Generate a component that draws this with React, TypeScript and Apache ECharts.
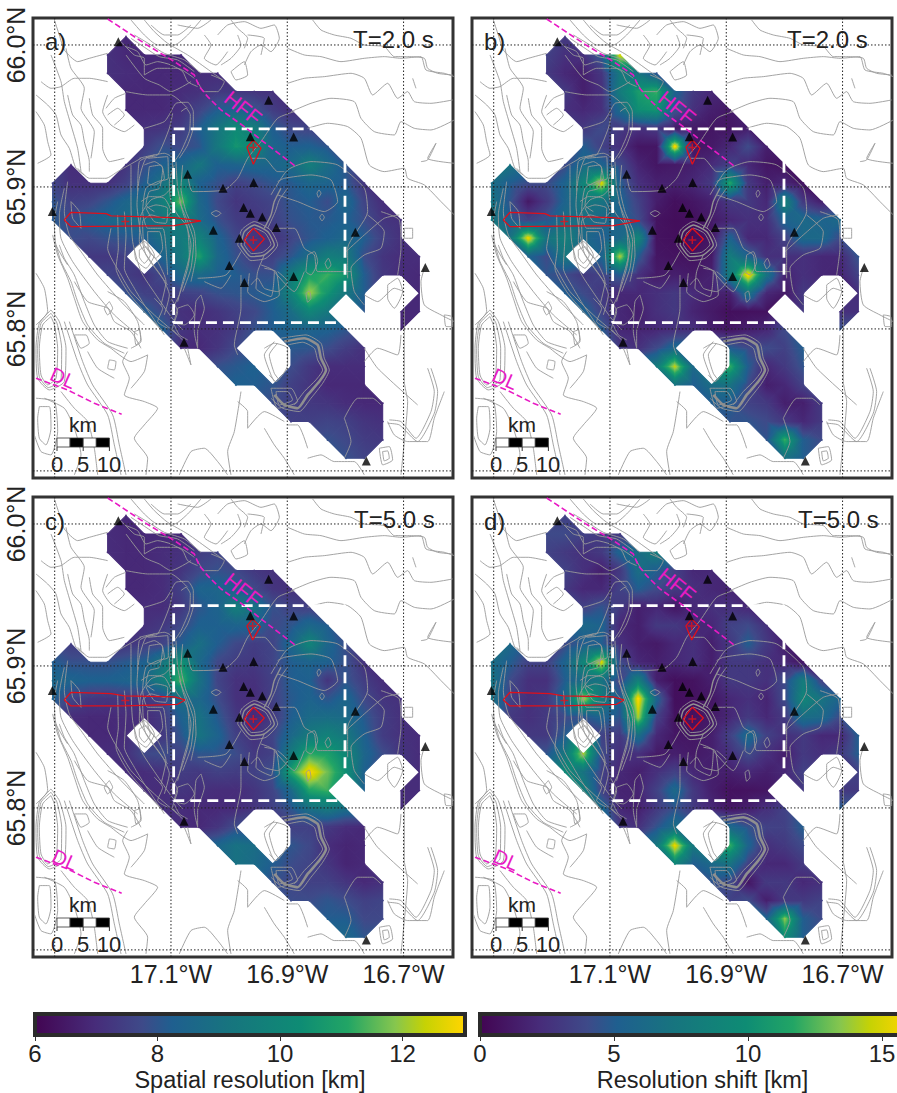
import React, { useEffect, useRef } from "react";
import * as echarts from "echarts";

// ---------- map frame ----------
const lonMin = -17.3373, lonMax = -16.615, latMax = 66.019, latMin = 65.695;
const gridLons = [-17.3, -17.1, -16.9, -16.7];
const gridLats = [66.0, 65.9, 65.8, 65.7];
const lonLabels = [-17.1, -16.9, -16.7];
const latLabels = [66.0, 65.9, 65.8];

// map sheet units -> degrees (one sheet unit = 1/1744.5 deg lon, 1/4260 deg lat)
const sheet = (p: number[]) => [-17.1 + (p[0] - 420) / 1744.5, 66 - (p[1] - 90) / 4260];

// ---------- tomography node table: column ranges present per row ----------
const nodeLon0 = -17.3035, nodeDLon = 0.03153, nodeLat0 = 66.00587, nodeDLat = 0.01291;
const maskRows = [
  [[4,4]],[[3,7]],[[3,9]],[[4,12]],[[4,13]],[[5,14]],[[5,15]],[[1,1],[4,16]],[[0,17]],[[0,18]],[[0,19]],[[1,19]],
  [[2,4],[6,20]],[[3,20]],[[4,17],[20,20]],[[5,15],[17,17],[19,20]],[[6,16],[19,19]],[[7,10],[13,17]],[[9,11],[13,17]],
  [[10,17]],[[12,18]],[[13,18]],[[15,18]],[[16,17]],
];

const resolution2s = [
  [6.9],
  [7.1,6.9,6.9,6.9,6.9],
  [7.1,7.0,6.9,6.9,6.9,7.0,7.0],
  [6.9,6.9,6.9,7.0,7.1,7.3,7.3,7.2,7.1],
  [6.9,6.9,6.9,7.1,7.6,8.2,8.4,8.0,7.4,7.1],
  [7.1,7.2,7.4,8.2,9.2,10.2,9.6,8.2,7.7,7.6],
  [7.4,7.9,7.7,8.0,9.3,10.6,10.1,8.5,8.2,8.3,8.0],
  [7.0,7.2,7.8,8.3,8.5,9.2,8.3,8.4,8.5,8.5,8.7,9.6,8.8,8.0],
  [7.6,7.1,7.1,7.1,7.5,8.2,9.0,10.0,8.3,7.9,7.5,7.7,8.0,8.1,8.5,8.4,8.1,7.2],
  [8.0,7.5,7.6,8.0,8.5,8.8,9.6,11.7,8.6,7.7,7.2,7.4,7.6,8.0,8.2,7.8,8.6,7.6,7.0],
  [8.1,7.8,8.2,8.5,8.7,8.8,9.2,9.6,8.7,7.9,7.4,7.2,7.5,7.9,8.1,8.1,8.3,7.8,7.2,7.1],
  [7.8,7.7,7.9,8.0,8.2,8.9,9.4,9.8,8.4,7.7,7.2,7.1,7.6,8.0,8.3,8.6,8.2,7.5,7.1],
  [7.3,7.3,7.5,8.4,9.3,10.9,8.6,7.9,7.4,7.5,8.0,8.8,9.6,9.4,7.8,7.2,7.0,7.0],
  [7.6,7.4,7.2,7.7,8.6,8.7,8.3,8.2,7.9,7.9,9.5,10.9,11.3,10.6,8.2,7.3,7.0,6.9],
  [7.9,7.5,7.4,7.5,7.6,7.9,8.0,8.1,8.3,9.8,12.1,10.6,9.2,8.2,6.9],
  [8.2,7.7,7.1,7.0,7.2,7.5,7.7,8.2,8.8,10.0,9.3,8.0,6.9,6.9],
  [8.3,7.2,7.0,7.1,7.4,7.9,8.2,8.4,8.4,8.3,8.0,6.9],
  [7.0,6.9,7.2,7.7,8.1,8.0,7.8,7.4,7.1],
  [7.9,8.1,8.3,7.8,7.3,7.0,7.0,7.0],
  [8.3,8.2,8.0,7.5,7.2,6.9,6.9,6.9],
  [7.8,7.5,7.3,7.2,7.0,6.9,6.9],
  [7.5,7.5,7.6,7.5,7.2,7.1],
  [7.9,7.7,7.4,7.3],
  [7.9,7.6],
];

const shift2s = [
  [3],
  [3.5,2.5,2.5,5,15],
  [3,2,1.5,2.8,7.5,7,4.5],
  [3,1.5,2.5,8,11,12,5.5,3,2],
  [2.5,2,2.5,6,10,10.5,4.5,2.5,1.5,1.2],
  [3,4,3,2.5,3,1.2,1.2,1,1,1.5],
  [5,3.5,2.5,1,1,16,1,1.2,2,4,1.5],
  [7,4,6,5.5,4,1.8,1,1.2,1.5,2.2,3.5,2,1,0.8],
  [6.5,5,4,4,5.5,9,15,5,2.5,1.6,1.6,2,3,11.5,3,1.5,2,0.8],
  [7,4.5,1.2,3,5.5,7.5,7,5.5,3.5,1.4,0.6,1,1.6,3,3,2,8.5,3,1.5],
  [7.5,5,3.5,4.5,6.5,6.5,6,5.5,4,0.8,0.5,0.6,1.2,2,2.5,2.5,5.5,6,5.5,6],
  [7,15.5,7,8.5,6,5,6,9,0.8,0.6,0.6,1,5.5,2,2,3.5,6,6,4],
  [5.5,4,7.5,5.5,14,5,1,0.8,0.8,1.2,8,5.5,2.5,2.5,2.5,2,2,4.5],
  [4.5,4,3,3.5,5,2.5,1.2,1.5,1.2,1.6,8,16,7,1.8,2.5,2,1.8,3.5],
  [5,4,3,2,2,2.5,3,2.2,1.6,1.6,7,2,1.2,3,2.5],
  [5.5,3.5,2,1.5,2.5,3,1.8,1.2,0.6,0.7,0.8,3,2.5,2.5],
  [5,2,1.8,2,2.5,2.5,1.5,1,1.5,2,4,4.5],
  [3,2.5,4,6,5,4,4,3.5,5],
  [8,14.5,6,12,5,2,3,4.5],
  [7,5,6.5,7,4,1.5,2,3.5],
  [5,5,3.5,3,1.5,1.5,3],
  [4.5,4.5,4,3,2,3],
  [4.5,12,5,4],
  [7,5],
];

const resolution5s = [
  [6.9],
  [7,6.9,6.9,6.9,6.9],
  [7,6.9,6.9,7,7.1,7.4,7.6],
  [6.9,6.9,7,7.2,7.7,7.9,7.7,7.3,7.1],
  [6.9,6.9,7,7.5,8.4,8.5,8.2,7.7,7.2,7.1],
  [7,7,7.3,8,8.4,9.6,9,7.9,7.6,7.5],
  [7.1,7.3,7.7,8.3,8.3,8.4,8.4,7.7,8,8.6,8.2],
  [7.4,7.2,7.4,7.6,8.2,8.9,8.2,7.7,7.4,7.6,8.5,9.9,8.5,7.8],
  [8.2,7.9,7.9,7.9,8.1,8.3,9.2,10.6,8.6,7.7,7.4,7.3,7.6,8.2,8.4,8.3,7.9,7.1],
  [8.6,8.4,8.3,8.3,8.4,8.6,9.6,11.4,9,7.6,7.1,7.1,7.5,8.2,8.3,7.2,8,7.4,7],
  [8.3,7.6,7.3,7.2,7.3,7.3,7.6,8.8,8.6,7.8,7.1,7,7.5,8.1,8.4,8,8.5,7.7,7.2,7.1],
  [7,6.9,6.9,7,7,7.3,8.3,9,8.1,7.3,6.9,7.3,8.2,8.7,8.8,8.7,8.1,7.4,7.1],
  [6.9,6.9,7,7.3,8,9.1,8.4,7.5,7.1,7.6,8.6,9.4,9.8,9.3,8.3,7.4,7.1,7],
  [7,7.1,7.7,7.8,7.6,8,8,7.8,7.3,7.5,9.4,11.2,10.9,10.1,8.5,7.8,7.2,7],
  [7,7,7.1,7.4,7.3,7.5,7.4,7.5,7.9,11,13,11.7,10.4,8.3,7],
  [7,7,7.2,7.1,7,7,7.2,7.6,8.6,11,11.3,8.3,7,7],
  [7.1,7,6.9,6.9,7,7.2,7.5,8,8.9,9.3,8.8,7],
  [7,6.9,7.2,7.8,7.5,7.5,7.3,7,6.9],
  [8.5,9,8.8,8,7.7,7,6.8,6.9],
  [9,8.7,8.2,7.8,7.6,7.2,6.8,6.9],
  [7.9,7.7,7.5,7.5,7.2,6.9,7.1],
  [7.8,7.8,8,7.8,7.5,7.6],
  [8.2,8.2,7.7,7.7],
  [8.6,8],
];

const shift5s = [
  [3.5],
  [4,4,3.5,3,3],
  [3.5,3,2.5,3,5.5,6.5,8],
  [3.5,2.5,1.5,3,6.5,5,3.5,2,2],
  [3,2,2,3.5,5,4,3,2.5,2,1.8],
  [3.5,4.5,3,1.5,2,1,2,2.5,2.5,2],
  [6,5.5,2,1.5,3,3,2,2,3.5,4,2.5],
  [6,4,5,5,2.5,1.5,1.2,2,2.5,1.5,3,5,3,1.5],
  [6.5,5,3.5,3.5,5.5,9,15,4,2,1.5,2,2.5,1.5,3,3,2.5,2,1],
  [7,4,2.5,2.5,5,6.5,7,3.5,8.5,1.5,0.6,0.8,1.5,3,3,2.5,4,8,3.5],
  [7,3.5,2.5,3,6,14,8,5,16,5.5,0.6,0.7,1,2,2.5,1.8,4,9,7,5.5],
  [3,2.5,3,4,4.5,5.5,4.5,14,3.5,0.8,0.7,1.2,2,3,2,3,6.5,6,4],
  [3,3,5,3.5,3,6.5,2,1,1,1.5,3.5,6,3.5,2.5,3,2,2,5],
  [4.5,7.5,14,4,2.5,2.5,1.2,1.5,1.2,1.5,2.5,4,2.5,1.5,3,2.5,3,5],
  [9.5,7,3.5,2,1.5,2.5,3.5,2,1.5,1.5,2,1.5,2,3.5,3.5],
  [8.5,3.5,1.8,1.8,3.5,6,3,1.5,0.7,0.8,1,3,3,3],
  [6,2,1.5,3,4.5,3,2,1,1.5,2.5,3.5,5],
  [3,2.5,4.5,6.5,6,4.5,3.5,3.5,5],
  [7.5,15.5,7.5,12,5.5,2.5,3,4],
  [9,5,6,7,3.5,2,2,3],
  [4.5,4,1,3,3,2,2.5],
  [3.5,4,1.5,3,3,3.5],
  [5.5,13.5,5,4],
  [10,5],
];

// ---------- colour scale ----------
const paletteT = [0, 0.14, 0.25, 0.32, 0.45, 0.62, 0.73, 0.84, 0.91, 1];
const paletteC = ["#420552", "#472c7a", "#3e4a89", "#1f5f8f", "#17747f", "#0e8c74", "#22a565", "#86c64e", "#c6d204", "#ffd500"];

const hexRgb = (h: string) => [1, 3, 5].map((k) => parseInt(h.slice(k, k + 2), 16));
function colorAt(t: number) {
  const u = Math.max(0, Math.min(1, t));
  let k = 0;
  while (k < paletteT.length - 2 && u > paletteT[k + 1]) k++;
  const f = (u - paletteT[k]) / (paletteT[k + 1] - paletteT[k]);
  const a = hexRgb(paletteC[k]), b = hexRgb(paletteC[k + 1]);
  return `rgb(${a.map((c, i) => Math.round(c + (b[i] - c) * f)).join(",")})`;
}

// ---------- topographic contours (map sheet units) ----------
const thinContours: number[][][] = [
  [[845,15],[870,45],[910,60],[960,70],[1000,90],[1060,95],[1090,125],[1130,125],[1180,130],[1190,160],[1220,175],[1265,180]],
  [[770,100],[820,120],[870,125],[930,140],[1000,130],[1060,125],[1110,130],[1170,125],[1185,165],[1240,175],[1270,185]],
  [[770,205],[820,190],[880,185],[960,175],[1000,190],[1025,240],[1070,205],[1100,250],[1130,230],[1150,260],[1200,265],[1265,255]],
  [[780,290],[840,265],[900,250],[970,260],[990,310],[1030,350],[1090,360],[1110,320],[1150,340],[1200,345],[1270,315]],
  [[830,340],[890,325],[950,335],[990,370],[1015,450],[1060,470],[1120,460],[1130,490],[1180,510],[1230,560],[1270,600]],
  [[1170,440],[1190,435],[1215,385],[1190,430],[1270,445]],
  [[1145,190],[1155,220]],
  [[470,480],[485,530],[580,525],[620,490],[650,430],[690,380],[740,310],[790,290]],
  [[720,540],[770,465],[840,440],[920,450],[1000,520],[1010,590],[950,700],[950,790]],
  [[740,500],[760,490],[840,480],[900,495],[920,560],[880,590],[800,560],[740,540]],
  [[500,790],[585,780],[630,710]],
  [[730,640],[790,640],[820,700],[850,720],[860,770],[960,770]],
  [[630,780],[630,880],[610,990],[620,1020]],
  [[730,770],[790,830],[820,770]],
  [[700,720],[680,770],[675,820],[720,845],[730,770],[690,750]],
  [[540,595],[555,587],[570,595],[555,605],[540,595]],
  [[866,607],[873,597],[880,607],[873,618],[866,607]],
  [[858,535],[864,525],[870,535],[862,547],[858,535]],
  [[882,745],[892,730],[900,750],[890,762],[882,745]],
  [[825,835],[835,828],[840,850],[830,862],[825,835]],
  [[420,290],[435,265],[470,262],[487,290],[487,335],[470,390],[445,430]],
  [[425,295],[415,340],[380,420],[345,430],[325,490],[318,570],[330,660],[345,720],[380,770],[410,810]],
  [[450,290],[465,280],[478,300],[475,350],[450,410],[430,440]],
  [[430,450],[415,500],[420,560],[440,600],[465,630],[480,690],[470,760],[445,840],[420,890]],
  [[445,560],[470,620],[488,680],[480,760],[455,830]],
  [[350,430],[410,425],[412,490],[380,500],[345,520],[335,590],[350,640],[395,640],[405,700],[410,780]],
  [[330,560],[355,545],[400,550],[420,590],[400,610],[360,600],[335,620],[340,690],[380,740],[405,800],[390,870]],
  [[340,450],[370,440],[395,460],[385,520],[355,530],[345,570],[370,590]],
  [[320,530],[325,440],[370,420]],
  [[280,590],[285,660],[280,760],[310,820],[340,870],[400,960]],
  [[240,640],[230,700],[270,780],[300,830],[370,900],[440,960]],
  [[120,560],[125,610],[150,640],[145,590],[120,560]],
  [[100,520],[85,600],[90,670],[125,740],[190,830],[250,900],[320,960]],
  [[110,500],[100,590],[115,660],[150,710],[200,780],[270,860],[340,930]],
  [[80,560],[70,620],[75,690],[110,750]],
  [[440,880],[470,870],[490,900],[460,930],[430,920],[440,880]],
  [[510,840],[520,880],[500,950],[500,1000],[490,950],[495,860],[510,840]],
  [[470,975],[445,960],[430,930]],
  [[460,1000],[480,1050],[470,1000]],
  [[270,80],[310,120],[340,130],[340,180],[380,160],[440,160],[490,190]],
  [[285,120],[340,190],[385,210],[420,230],[480,200]],
  [[285,230],[350,240],[420,240],[470,280]],
  [[340,340],[400,320],[420,290]],
  [[500,200],[520,230],[560,230],[580,200],[540,180]],
  [[300,15],[340,60],[380,90],[430,90],[470,60],[510,15]],
  [[440,30],[500,40],[540,15]],
  [[560,60],[590,30],[640,20],[690,40],[730,30],[745,70],[720,110],[690,90],[660,110],[640,150]],
  [[570,150],[600,130],[630,90],[620,60]],
  [[600,170],[640,140],[650,180],[615,195],[600,170]],
  [[230,115],[175,130],[140,140],[100,105],[85,60],[70,15]],
  [[30,200],[60,220],[90,215],[130,190],[175,190],[230,200]],
  [[15,240],[50,270],[75,300],[90,360],[115,400],[135,460],[160,480]],
  [[15,290],[40,330],[50,380],[60,420],[20,445]],
  [[110,240],[125,300],[150,330],[160,380],[175,440],[175,470]],
  [[175,250],[185,300],[215,340],[215,400],[235,440],[280,430]],
  [[225,280],[250,250],[285,235]],
  [[85,690],[100,730],[130,780],[160,860],[190,930],[230,980],[290,1000]],
  [[75,690],[90,740],[120,800],[140,860],[170,930],[220,985],[280,1015]],
  [[65,660],[80,720],[110,790],[130,850],[155,920],[200,975],[240,1000]],
  [[60,905],[35,930],[25,1000],[30,1080],[50,1110],[75,1090],[80,1000],[70,930],[60,905]],
  [[60,885],[25,925],[15,1000],[20,1090],[55,1125],[100,1100],[105,1000],[85,920],[60,885]],
  [[60,895],[30,925],[20,1000],[25,1085],[52,1118],[90,1095],[92,1000],[78,925],[60,895]],
  [[15,775],[40,820],[50,890],[15,930]],
  [[25,1175],[55,1175],[60,1240],[45,1290],[25,1270],[20,1210],[25,1175]],
  [[15,1150],[70,1160],[80,1250],[60,1320],[30,1310],[10,1260]],
  [[100,920],[140,1040],[170,1110],[230,1200],[250,1290],[270,1380]],
  [[115,920],[155,1040],[185,1110],[245,1200],[265,1290],[285,1380]],
  [[90,1130],[130,1180],[170,1220],[190,1300],[200,1380]],
  [[235,860],[220,880],[230,900],[245,880],[235,860]],
  [[235,1035],[230,1060],[250,1065],[255,1040],[235,1035]],
  [[310,950],[325,945],[330,975],[315,990],[310,950]],
  [[290,1010],[275,1040],[295,1090],[280,1140],[340,1160],[380,1180],[340,1230],[310,1270],[350,1330],[345,1380]],
  [[445,1380],[480,1310],[520,1300],[560,1340],[590,1380]],
  [[630,1130],[610,1250],[590,1310],[600,1380]],
  [[730,980],[700,1020],[720,1080],[730,1100]],
  [[740,985],[715,1020],[730,1075],[745,1095]],
  [[720,1120],[780,1120],[800,1160],[740,1180],[720,1120]],
  [[735,1130],[770,1130],[785,1155],[745,1170],[735,1130]],
  [[940,1210],[980,1150],[1025,1150],[1050,1170]],
  [[940,1210],[960,1280],[940,1330]],
  [[1190,1060],[1210,1130],[1200,1190],[1155,1270],[1110,1220],[1075,1215]],
  [[1200,1060],[1220,1130],[1210,1195],[1160,1280],[1105,1230],[1070,1225]],
  [[1120,880],[1120,1100],[1130,1160],[1120,1280],[1110,1380]],
  [[1045,1300],[1075,1295],[1085,1335],[1055,1350],[1045,1300]],
  [[1055,1310],[1070,1308],[1075,1330],[1060,1338],[1055,1310]],
  [[830,1330],[870,1320],[910,1340],[970,1340],[1000,1380]],
  [[620,1160],[650,1190],[650,1240],[700,1190],[760,1220]],
  [[1180,760],[1170,800],[1180,870],[1230,900],[1270,920]],
  [[1240,900],[1262,905],[1265,935],[1245,935],[1240,900]],
  [[1160,1170],[1040,1060],[1000,1000]],
  [[1000,840],[1040,860],[1090,820],[1120,830]],
  [[325,430],[345,425],[400,415],[425,430],[425,510],[400,540],[360,555],[330,600],[325,680],[360,740],[395,790],[415,840],[400,900]],
  [[355,455],[390,450],[400,490],[370,510],[350,505],[355,455]],
  [[345,580],[375,570],[410,580],[405,625],[370,620],[345,580]],
  [[350,650],[385,650],[395,700],[375,730],[352,700],[350,650]],
  [[435,440],[440,520],[455,590],[470,640],[475,720],[455,800],[440,860]],
  [[455,450],[450,520],[465,590],[490,650],[495,720],[480,800]],
  [[300,450],[300,560],[305,680],[330,770],[375,840],[420,905],[455,945]],
  [[260,600],[262,700],[255,760],[290,830],[340,890],[395,950]],
  [[420,850],[440,890],[425,940],[455,975]],
  [[370,850],[395,880],[380,920],[410,940]],
  [[285,95],[320,110],[345,150],[380,140],[420,150],[455,170],[470,200],[500,215]],
  [[300,70],[345,100],[385,125],[440,135],[490,170]],
  [[310,60],[360,90],[400,115],[460,135],[510,175]],
  [[340,15],[370,50],[410,85],[470,120],[540,170],[575,195]],
  [[360,30],[400,60],[440,60],[480,30]],
  [[520,60],[540,90],[520,130],[555,150],[590,110]],
  [[650,60],[700,70],[690,120]],
  [[600,15],[620,40],[650,70],[640,100]],
  [[105,100],[120,160],[160,220],[150,280],[190,350],[180,430]],
  [[60,120],[90,200],[100,260],[120,330],[140,400],[150,470]],
  [[230,240],[215,290],[240,330],[280,350],[310,330]],
  [[230,300],[260,280],[280,300],[250,330]],
  [[140,460],[175,490],[225,490],[260,470],[330,430]],
  [[130,800],[170,860],[230,880],[250,920],[300,950],[330,1000]],
  [[230,830],[280,860],[320,920],[330,980],[300,1000]],
  [[240,1000],[300,1040],[350,1020],[340,1070],[300,1120]],
  [[170,1010],[200,1060],[250,1090]],
  [[130,960],[150,1000],[175,985],[165,960],[130,960]],
  [[40,1150],[100,1180],[130,1240],[150,1320],[130,1380]],
  [[750,970],[825,960],[870,985],[880,1030],[895,1065],[875,1105],[840,1150],[805,1190],[755,1180],[720,1150]],
  [[770,990],[815,982],[850,1000],[860,1035],[875,1065],[855,1095],[820,1130],[790,1170]],
  [[310,700],[340,680],[370,720],[345,760],[315,735],[310,700]],
  [[325,705],[345,695],[358,720],[340,745],[325,725],[325,705]],
  [[700,1000],[730,985],[770,1000],[770,1050],[735,1100],[715,1080]],
  [[1070,1220],[1090,1260],[1130,1280],[1190,1280],[1210,1210],[1240,1130]],
  [[1000,1040],[1040,1000],[1100,1020],[1110,960]],
  [[1070,810],[1100,790],[1115,830],[1090,880],[1070,850],[1070,810]],
  [[1120,640],[1145,640],[1145,670],[1120,670],[1120,640]],
  [[1010,600],[1060,650],[1050,700],[1000,720],[960,760],[970,830],[1000,870]],
  [[1050,590],[1105,615],[1110,700],[1100,780]],
  [[945,710],[1000,660],[1060,610],[1105,600]],
  [[830,720],[850,710],[860,740],[840,780],[825,770],[830,720]],
  [[660,430],[700,430],[740,470],[760,470]],
  [[520,800],[570,820],[600,780]],
  [[660,810],[680,790],[700,820],[740,830],[770,800],[740,770]],
  [[655,775],[650,830],[700,860],[745,840],[735,770],[700,760]],
  [[620,690],[632,645],[670,620],[718,645],[740,690],[705,730],[660,737],[620,690]],
  [[640,690],[650,655],[670,640],[703,655],[720,688],[695,712],[662,716],[640,690]],
  [[710,640],[733,590],[745,555],[770,520]],
  [[770,1230],[800,1230],[830,1300]],
  [[700,1240],[730,1290],[760,1330],[790,1380]],
];
const thickContours: number[][][] = [
  [[760,980],[820,970],[860,990],[870,1030],[885,1065],[865,1100],[830,1140],[800,1180],[760,1170],[730,1140]],
];
const mediumContours: number[][][] = [
  [[630,690],[640,650],[670,630],[710,650],[730,690],[700,720],[660,725],[630,690]],
  [[700,640],[720,600],[730,560],[750,520]],
];

// ---------- other map features ----------
const stations = [[262,80],[713,256],[658,365],[788,366],[470,478],[576,520],[668,503],[638,578],[658,595],[694,606],[736,638],[547,646],[625,670],[595,752],[640,803],[788,785],[973,652],[1183,758],[459,982],[1006,1338],[64,590]];
const hffFault = [[230,12],[340,85],[430,140],[490,180],[505,215],[530,245],[570,285],[640,335],[690,375],[795,455]];
const dlFault = [[15,1090],[110,1125],[190,1165],[272,1198]];
const diamondSouth = [[667,640],[640,675],[667,708],[700,672],[667,640]];
const swarmLong = [[120,592],[100,615],[120,635],[430,632],[510,618],[430,608],[240,603],[225,596],[120,592]];
const swarmShort = [[120,595],[100,618],[120,636],[280,636],[440,631],[462,618],[430,609],[280,606],[240,599],[120,595]];
const diamondNorthLong = [[667,375],[648,397],[667,448],[690,400],[667,375]];
const diamondNorthShort = [[665,375],[648,396],[665,438],[688,398],[665,375]];
const boxTop = [[428,342],[942,342],[942,923],[428,923],[428,342]];
const boxBottom = [[428,335],[942,335],[942,920],[428,920],[428,335]];
const epicentresTop = [[283,620],[667,398],[667,675]];
const epicentresBottom = [[283,620],[665,396],[667,675]];

const resTicks = [6, 8, 10, 12];
const shiftTicks = [0, 5, 10, 15];

// ---------- builders ----------
function triangles(rows: number[][]) {
  const nodes: Record<string, number> = {};
  maskRows.forEach((ranges, j) => {
    const vals = rows[j];
    let n = 0;
    ranges.forEach(([a, b]) => {
      for (let i = a; i <= b; i++) {
        nodes[`${i},${j}`] = vals[Math.min(n, vals.length - 1)];
        n++;
      }
    });
  });
  const P = (i: number, j: number) => [nodeLon0 + i * nodeDLon, nodeLat0 - j * nodeDLat];
  const out: number[][] = [];
  const tri = (a: number[], va: number, b: number[], vb: number, c: number[], vc: number) =>
    out.push([a[0], a[1], va, b[0], b[1], vb, c[0], c[1], vc]);
  for (let j = 0; j < maskRows.length - 1; j++) {
    for (let i = 0; i < 20; i++) {
      const q = [[i, j], [i + 1, j], [i + 1, j + 1], [i, j + 1]];
      const present = q.filter(([x, y]) => nodes[`${x},${y}`] !== undefined);
      if (present.length === 3) {
        const [a, b, c] = present;
        tri(P(a[0], a[1]), nodes[`${a[0]},${a[1]}`], P(b[0], b[1]), nodes[`${b[0]},${b[1]}`], P(c[0], c[1]), nodes[`${c[0]},${c[1]}`]);
      } else if (present.length === 4) {
        const vs = q.map(([x, y]) => nodes[`${x},${y}`]);
        const mid = (vs[0] + vs[1] + vs[2] + vs[3]) / 4;
        const C = P(i + 0.5, j + 0.5);
        for (let k = 0; k < 4; k++) {
          const m = (k + 1) % 4;
          tri(P(q[k][0], q[k][1]), vs[k], P(q[m][0], q[m][1]), vs[m], C, mid);
        }
      }
    }
  }
  return out;
}

function shade(pts: number[][], ts: number[]): any {
  const tmin = Math.min(...ts), tmax = Math.max(...ts);
  if (tmax - tmin < 0.003) return colorAt((tmin + tmax) / 2);
  const dx1 = pts[1][0] - pts[0][0], dy1 = pts[1][1] - pts[0][1];
  const dx2 = pts[2][0] - pts[0][0], dy2 = pts[2][1] - pts[0][1];
  const dt1 = ts[1] - ts[0], dt2 = ts[2] - ts[0];
  const det = dx1 * dy2 - dx2 * dy1;
  if (Math.abs(det) < 1e-6) return colorAt(ts[0]);
  const a = (dt1 * dy2 - dt2 * dy1) / det;
  const b = (dx1 * dt2 - dx2 * dt1) / det;
  const len2 = a * a + b * b;
  const p = pts[ts.indexOf(tmin)];
  const k = (tmax - tmin) / len2;
  const stops = [{ offset: 0, color: colorAt(tmin) }];
  paletteT.forEach((t) => {
    if (t > tmin && t < tmax) stops.push({ offset: (t - tmin) / (tmax - tmin), color: colorAt(t) });
  });
  stops.push({ offset: 1, color: colorAt(tmax) });
  return { type: "linear", x: p[0], y: p[1], x2: p[0] + a * k, y2: p[1] + b * k, global: true, colorStops: stops };
}

const breakJoin = (lines: number[][][]) => {
  const out: number[][] = [];
  lines.forEach((l) => {
    l.forEach((p) => out.push(sheet(p)));
    out.push([NaN, NaN]);
  });
  return out;
};

function lineSeries(ix: number, data: number[][], style: any, z = 3, smooth: any = false) {
  return {
    type: "line", xAxisIndex: ix, yAxisIndex: ix, data, symbol: "none", silent: true, z, smooth,
    connectNulls: false, lineStyle: style, animation: false,
  };
}

function panelSeries(ix: number, rows: number[][], d0: number, d1: number, swarm: number[][], dn: number[][], box: number[][], eps: number[][]) {
  const gridData: number[][] = [];
  gridLons.forEach((x) => gridData.push([x, latMin], [x, latMax], [NaN, NaN]));
  gridLats.forEach((y) => gridData.push([lonMin, y], [lonMax, y], [NaN, NaN]));
  return [
    {
      type: "custom", xAxisIndex: ix, yAxisIndex: ix, z: 2, silent: true, clip: true,
      data: triangles(rows),
      encode: { x: [0, 3, 6], y: [1, 4, 7] },
      renderItem: (_p: any, api: any) => {
        const pts = [0, 3, 6].map((k) => api.coord([api.value(k), api.value(k + 1)]));
        const ts = [2, 5, 8].map((k) => (api.value(k) - d0) / (d1 - d0));
        const paint = shade(pts, ts);
        return { type: "polygon", shape: { points: pts }, style: { fill: paint, stroke: paint, lineWidth: 1.1 } };
      },
    },
    lineSeries(ix, breakJoin(thinContours), { color: "#9a9a9a", width: 0.9 }, 3, 0.2),
    lineSeries(ix, breakJoin(mediumContours), { color: "#929292", width: 1.4 }, 3, 0.2),
    lineSeries(ix, breakJoin(thickContours), { color: "#8f8f8f", width: 2.6 }, 3, 0.2),
    lineSeries(ix, gridData, { color: "#222", width: 1, type: [1.5, 2] }, 4),
    lineSeries(ix, box.map(sheet), { color: "#fff", width: 2.8, type: [11, 6] }, 5),
    lineSeries(ix, breakJoin([hffFault, dlFault]), { color: "#e81bc4", width: 1.6, type: [6, 3] }, 5),
    lineSeries(ix, breakJoin([swarm, dn, diamondSouth]), { color: "#e0101a", width: 1.3 }, 6),
    {
      type: "scatter", xAxisIndex: ix, yAxisIndex: ix, z: 6, silent: true, symbol: "path://M5 0V10M0 5H10", symbolSize: 8,
      itemStyle: { color: "none", borderColor: "#e0101a", borderWidth: 1.5 }, data: eps.map(sheet),
    },
    {
      type: "scatter", xAxisIndex: ix, yAxisIndex: ix, z: 7, silent: true, symbol: "triangle", symbolSize: 9,
      itemStyle: { color: "#000" }, data: stations.map(sheet),
    },
  ];
}

function colorbarSeries(ix: number, d0: number, d1: number, hi: number) {
  return {
    type: "custom", xAxisIndex: ix, yAxisIndex: ix, z: 2, silent: true, data: [[d0, hi]],
    encode: { x: [0, 1] },
    renderItem: (_p: any, api: any) => {
      const a = api.coord([d0, 0]), b = api.coord([hi, 1]), e = api.coord([d1, 0]);
      return {
        type: "rect",
        shape: { x: a[0], y: b[1], width: b[0] - a[0], height: a[1] - b[1] },
        style: {
          fill: {
            type: "linear", x: a[0], y: 0, x2: e[0], y2: 0, global: true,
            colorStops: paletteT.map((t, k) => ({ offset: t, color: paletteC[k] })),
          },
        },
      };
    },
  };
}

const FONT = "'Liberation Sans', Arial, sans-serif";
const INK = "#222";

const panels = [
  { left: 33, top: 18 },
  { left: 472, top: 18 },
  { left: 33, top: 497 },
  { left: 472, top: 497 },
];
const tags = ["a)", "b)", "c)", "d)"];
const periods = ["T=2.0 s", "T=2.0 s", "T=5.0 s", "T=5.0 s"];
const periodX = [353, 787, 354, 798];
const hffPos = [[243, 108], [677, 108], [243, 590], [677, 585]];
const dlPos = [[63, 378], [505, 379], [65, 860], [506, 860]];

function annotations() {
  const g: any[] = [];
  const txt = (text: string, x: number, y: number, size: number, fill = INK, align = "left", rotation = 0) =>
    g.push({ type: "text", x, y, rotation, z: 200, silent: true, style: { text, fontSize: size, fontFamily: FONT, fill, align, verticalAlign: "middle" } });
  panels.forEach((p, k) => {
    const oy = p.top - 18 + (k > 1 ? 1 : 0);
    const ox = p.left - 33;
    txt(tags[k], ox + 45, oy + 41, 24);
    txt(periods[k], periodX[k], oy + 39, 24);
    txt("HFF", hffPos[k][0], hffPos[k][1], 21, "#e81bc4", "center", -0.68);
    txt("DL", dlPos[k][0], dlPos[k][1], 20, "#e81bc4", "center", -0.42);
    const barX = ox + 57, barY = oy + 438, seg = 13.1;
    [0, 1, 2, 3].forEach((n) =>
      g.push({ type: "rect", z: 200, silent: true, shape: { x: barX + n * seg, y: barY, width: seg, height: 9 }, style: { fill: n % 2 ? "#000" : "#fff", stroke: "#333", lineWidth: 0.8 } }),
    );
    [0, 2, 4].forEach((n) =>
      g.push({ type: "line", z: 200, silent: true, shape: { x1: barX + n * seg, y1: barY + 9, x2: barX + n * seg, y2: barY + 13 }, style: { stroke: "#333", lineWidth: 1 } }),
    );
    txt("km", barX + 26, oy + 424, 21, INK, "center");
    txt("0", barX, oy + 464, 22, INK, "center");
    txt("5", barX + 26, oy + 464, 22, INK, "center");
    txt("10", barX + 52, oy + 464, 22, INK, "center");
  });
  g.push({ type: "rect", z: 200, silent: true, shape: { x: 35, y: 1014, width: 430, height: 21 }, style: { fill: "none", stroke: "#2b2b2b", lineWidth: 4 } });
  g.push({ type: "rect", z: 200, silent: true, shape: { x: 480, y: 1014, width: 445, height: 21 }, style: { fill: "none", stroke: "#2b2b2b", lineWidth: 4 } });
  return g;
}

function buildOption() {
  const grid: any[] = panels.map((p) => ({ left: p.left, top: p.top, width: 420, height: 460, show: true, borderColor: "#333", borderWidth: 3, backgroundColor: "#fff", outerBoundsMode: "none" }));
  grid.push({ left: 35, top: 1014, width: 430, height: 21, outerBoundsMode: "none" });
  grid.push({ left: 480, top: 1014, width: 445, height: 21, outerBoundsMode: "none" });

  const xAxis: any[] = panels.map((_p, k) => ({
    type: "value", gridIndex: k, min: lonMin, max: lonMax, splitLine: { show: false }, axisLine: { show: false }, axisTick: { show: false },
    axisLabel: {
      show: k > 1, customValues: lonLabels, margin: 4, fontSize: 25, fontFamily: FONT, color: INK,
      formatter: (v: number) => `${Math.abs(v).toFixed(1)}°W`,
    },
  }));
  const yAxis: any[] = panels.map((_p, k) => ({
    type: "value", gridIndex: k, min: latMin, max: latMax, splitLine: { show: false }, axisLine: { show: false }, axisTick: { show: false },
    axisLabel: {
      show: k % 2 === 0, customValues: latLabels, rotate: 90, margin: 5, fontSize: 25, fontFamily: FONT, color: INK,
      formatter: (v: number) => `${v.toFixed(1)}°N`,
    },
  }));
  const cbAxis = (ix: number, min: number, max: number, ticks: number[], name: string, gap: number) => ({
    type: "value", gridIndex: ix, min, max, splitLine: { show: false }, axisLine: { show: false },
    axisTick: { show: true, length: 6, customValues: ticks, lineStyle: { color: "#333", width: 1 } },
    axisLabel: { customValues: ticks, margin: 6, fontSize: 24, fontFamily: FONT, color: INK },
    name, nameLocation: "middle", nameGap: gap, nameTextStyle: { fontSize: 23.5, fontFamily: FONT, color: INK },
  });
  xAxis.push(cbAxis(4, 6, 13.02, resTicks, "Spatial resolution [km]", 33));
  xAxis.push(cbAxis(5, 0, 16.6, shiftTicks, "Resolution shift [km]", 33));
  [4, 5].forEach((ix) => yAxis.push({ type: "value", gridIndex: ix, min: 0, max: 1, show: false }));

  const series: any[] = [
    ...panelSeries(0, resolution2s, 6, 13, swarmLong, diamondNorthLong, boxTop, epicentresTop),
    ...panelSeries(1, shift2s, 0, 16, swarmLong, diamondNorthLong, boxTop, epicentresTop),
    ...panelSeries(2, resolution5s, 6, 13, swarmShort, diamondNorthShort, boxBottom, epicentresBottom),
    ...panelSeries(3, shift5s, 0, 16, swarmShort, diamondNorthShort, boxBottom, epicentresBottom),
    colorbarSeries(4, 6, 13, 13.02),
    colorbarSeries(5, 0, 16, 16.6),
  ];
  return { animation: false, backgroundColor: "#fff", grid, xAxis, yAxis, series, graphic: { elements: annotations() } };
}

export default function App() {
  const ref = useRef<HTMLDivElement>(null);
  useEffect(() => {
    document.body.style.margin = "0";
    const chart = echarts.init(ref.current as HTMLDivElement, undefined, { renderer: "svg" });
    chart.setOption(buildOption() as any);
    return () => chart.dispose();
  }, []);
  return <div ref={ref} style={{ width: 897, height: 1093, overflow: "hidden" }} />;
}
